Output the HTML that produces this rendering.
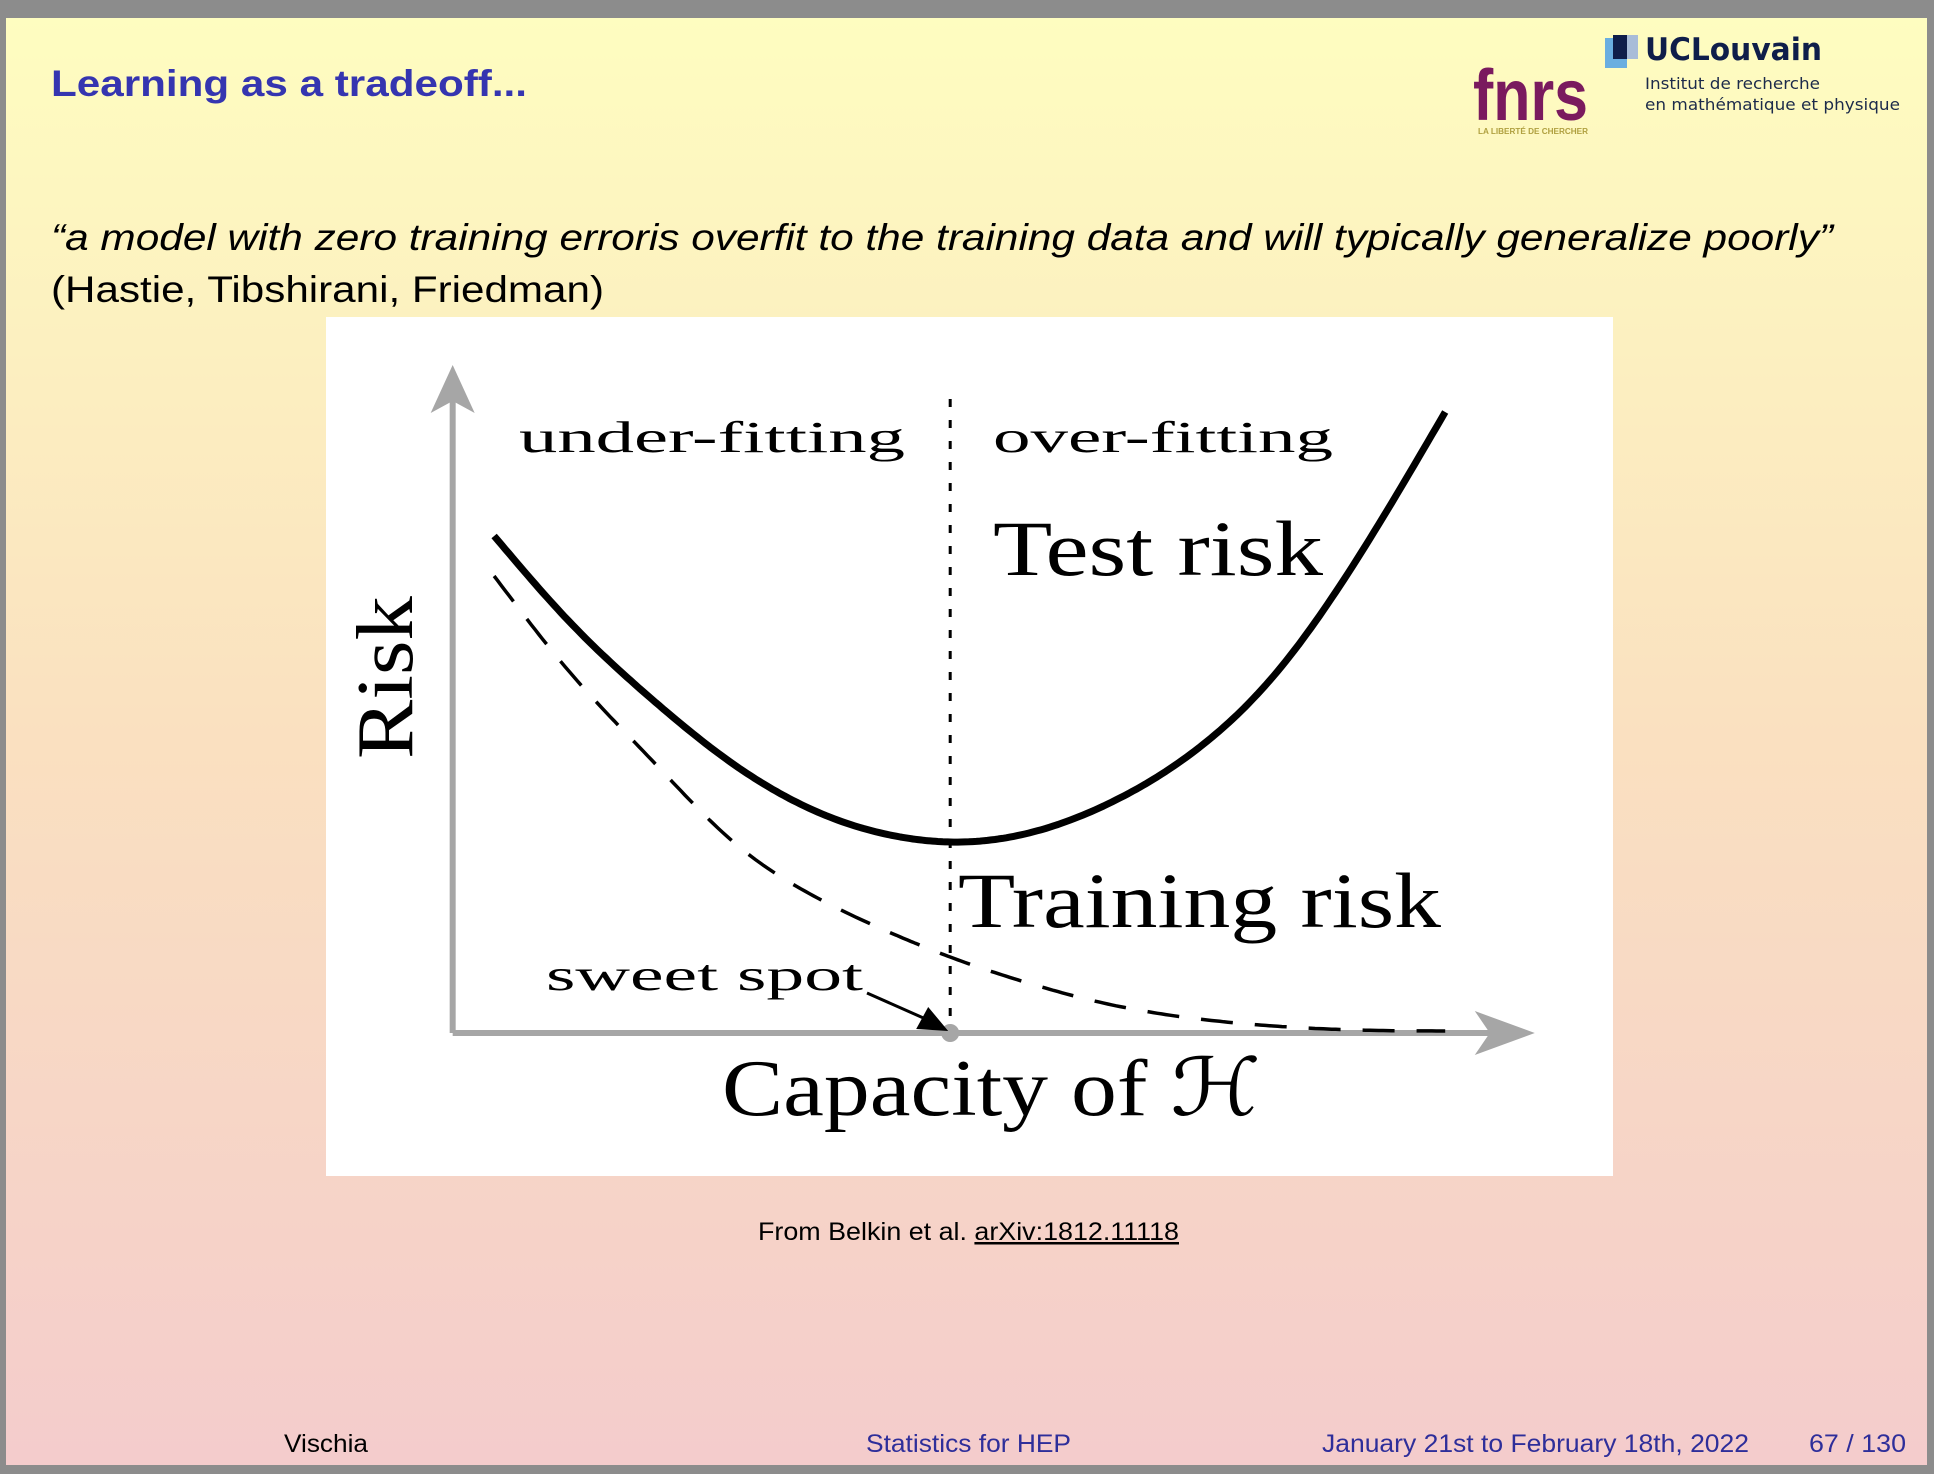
<!DOCTYPE html>
<html><head><meta charset="utf-8"><style>
html,body{margin:0;padding:0;background:#8c8c8c;}
svg{display:block}
</style></head><body>
<svg width="1934" height="1474" viewBox="0 0 1934 1474" xmlns="http://www.w3.org/2000/svg">
<defs>
<linearGradient id="bg" x1="0" y1="0" x2="0" y2="1">
<stop offset="0" stop-color="#fefdc0"/>
<stop offset="0.5" stop-color="#fae0c0"/>
<stop offset="1" stop-color="#f4cccc"/>
</linearGradient>
</defs>
<rect x="0" y="0" width="1934" height="1474" fill="#8c8c8c"/>
<rect x="6" y="18" width="1921" height="1447" fill="url(#bg)"/>

<text x="51" y="96" font-family="Liberation Sans, sans-serif" font-weight="bold" font-size="37" fill="#3535b0" textLength="476" lengthAdjust="spacingAndGlyphs">Learning as a tradeoff...</text>

<g>
<text x="1473" y="120" font-family="Liberation Sans, sans-serif" font-weight="bold" font-size="72" fill="#7a1a5e" textLength="115" lengthAdjust="spacingAndGlyphs">fnrs</text>
<text x="1478" y="134" font-family="Liberation Sans, sans-serif" font-weight="bold" font-size="8" fill="#b0a040" textLength="110" lengthAdjust="spacingAndGlyphs">LA LIBERTÉ DE CHERCHER</text>
</g>
<g>
<rect x="1605" y="38" width="22" height="30" fill="#6aaee0"/>
<rect x="1617" y="35" width="21" height="24" fill="#a8bcd8"/>
<rect x="1613" y="35" width="14" height="24" fill="#0f1e4a"/>
<text x="1645" y="60" font-family="DejaVu Sans, sans-serif" font-weight="bold" font-size="31" fill="#0f1e4a" textLength="177" lengthAdjust="spacingAndGlyphs">UCLouvain</text>
<text x="1645" y="89" font-family="DejaVu Sans, sans-serif" font-size="16" fill="#1c2a4a" textLength="175" lengthAdjust="spacingAndGlyphs">Institut de recherche</text>
<text x="1645" y="110" font-family="DejaVu Sans, sans-serif" font-size="16" fill="#1c2a4a" textLength="255" lengthAdjust="spacingAndGlyphs">en mathématique et physique</text>
</g>

<text x="51" y="250" font-family="Liberation Sans, sans-serif" font-style="italic" font-size="37" fill="#000" textLength="1782" lengthAdjust="spacingAndGlyphs">“a model with zero training erroris overfit to the training data and will typically generalize poorly”</text>
<text x="51" y="302" font-family="Liberation Sans, sans-serif" font-size="37" fill="#000" textLength="553" lengthAdjust="spacingAndGlyphs">(Hastie, Tibshirani, Friedman)</text>

<g id="chart">
<rect x="326" y="317" width="1287" height="859" fill="#ffffff"/>
</g>

<text x="758" y="1240" font-family="Liberation Sans, sans-serif" font-size="25" fill="#000" textLength="421" lengthAdjust="spacingAndGlyphs">From Belkin et al. <tspan text-decoration="underline">arXiv:1812.11118</tspan></text>

<g font-family="Liberation Sans, sans-serif" font-size="25">
<text x="284" y="1452" fill="#000" textLength="84" lengthAdjust="spacingAndGlyphs">Vischia</text>
<text x="866" y="1452" fill="#2e2e9a" textLength="205" lengthAdjust="spacingAndGlyphs">Statistics for HEP</text>
<text x="1322" y="1452" fill="#2e2e9a" textLength="427" lengthAdjust="spacingAndGlyphs">January 21st to February 18th, 2022</text>
<text x="1809" y="1452" fill="#2e2e9a" textLength="97" lengthAdjust="spacingAndGlyphs">67 / 130</text>
</g>
</svg>
<script>
// chart data
const capacity = [2.1, 3, 4, 5, 6, 7, 7.6, 8.5, 9.5, 10.5, 11.5, 12.5, 13.57];
const testRisk = [4.97, 4.12, 3.34, 2.68, 2.21, 1.96, 1.91, 1.99, 2.29, 2.79, 3.57, 4.73, 6.21];
const trainingRisk = [4.57, 3.62, 2.73, 1.90, 1.35, 0.96, 0.76, 0.51, 0.29, 0.15, 0.07, 0.03, 0.02];
const sweetSpot = [7.6];

const NS = 'http://www.w3.org/2000/svg';
const chart = document.getElementById('chart');
function xScale(c){ return 320 + c * 82.92; }
function yScale(r){ return 1033 - r * 100; }
function mk(tag, attrs){
  const e = document.createElementNS(NS, tag);
  for (const k in attrs) e.setAttribute(k, attrs[k]);
  chart.appendChild(e);
  return e;
}
// natural cubic spline through data points, sampled densely
function splinePath(xs, ys){
  const n = xs.length;
  const h = [], a = [], l = [1], mu = [0], z = [0], c = new Array(n).fill(0), b = [], d = [];
  for (let i=0;i<n-1;i++) h.push(xs[i+1]-xs[i]);
  for (let i=1;i<n-1;i++) a[i] = 3/h[i]*(ys[i+1]-ys[i]) - 3/h[i-1]*(ys[i]-ys[i-1]);
  for (let i=1;i<n-1;i++){
    l[i] = 2*(xs[i+1]-xs[i-1]) - h[i-1]*mu[i-1];
    mu[i] = h[i]/l[i];
    z[i] = (a[i]-h[i-1]*z[i-1])/l[i];
  }
  z[n-1] = 0;
  for (let j=n-2;j>=0;j--){
    c[j] = (j>0 ? z[j] : 0) - mu[j]*c[j+1];
    b[j] = (ys[j+1]-ys[j])/h[j] - h[j]*(c[j+1]+2*c[j])/3;
    d[j] = (c[j+1]-c[j])/(3*h[j]);
  }
  let dstr = '';
  for (let j=0;j<n-1;j++){
    const steps = 20;
    for (let s=(j===0?0:1); s<=steps; s++){
      const t = h[j]*s/steps;
      const y = ys[j] + b[j]*t + c[j]*t*t + d[j]*t*t*t;
      dstr += (dstr ? ' L' : 'M') + xScale(xs[j]+t).toFixed(1) + ',' + yScale(y).toFixed(1);
    }
  }
  return dstr;
}
const gray = '#a6a6a6';
const x0 = xScale(1.6), y0 = yScale(0);
const ya = mk('line', {x1:x0, y1:y0, x2:x0, y2:yScale(6.5), stroke:gray, 'stroke-width':6});


const yah = mk('path', {d:'M'+x0+','+yScale(6.68)+' L'+(x0-22)+','+yScale(6.2)+' L'+x0+','+yScale(6.32)+' L'+(x0+22)+','+yScale(6.2)+' Z', fill:gray});


const xa = mk('line', {x1:x0, y1:y0, x2:xScale(14.2), y2:y0, stroke:gray, 'stroke-width':6});


const xt = xScale(14.65);
const xah = mk('path', {d:'M'+xt+','+y0+' L'+(xt-60)+','+(y0-22)+' L'+(xt-45)+','+y0+' L'+(xt-60)+','+(y0+22)+' Z', fill:gray});


const sx = xScale(sweetSpot[0]);
const dv = mk('line', {x1:sx, y1:399, x2:sx, y2:y0, stroke:'#000', 'stroke-width':3, 'stroke-dasharray':'8 13'});


const tr = mk('path', {d:splinePath(capacity, trainingRisk), fill:'none', stroke:'#000', 'stroke-width':3.5, 'stroke-dasharray':'32 22'});


const te = mk('path', {d:splinePath(capacity, testRisk), fill:'none', stroke:'#000', 'stroke-width':7, 'stroke-linejoin':'round'});


const dot = mk('circle', {cx:sx, cy:y0, r:9, fill:gray});


const ar = mk('line', {x1:867, y1:993, x2:sx-20, y2:y0-12, stroke:'#000', 'stroke-width':3});


const arh = mk('path', {d:'M'+(sx-2)+','+(y0-2)+' L'+(sx-34)+','+(y0-4)+' L'+(sx-22)+','+(y0-26)+' Z', fill:'#000'});


function label(txt, x, y, size, len, rot){
  const t = mk('text', {x:x, y:y, 'font-family':'Liberation Serif, serif', 'font-size':size, fill:'#000', textLength:len, lengthAdjust:'spacingAndGlyphs'});
  if (rot) t.setAttribute('transform', rot);
  t.textContent = txt;
  return t;
}
let l;
l = label('under-fitting', 519, 452, 44, 386);


l = label('over-fitting', 993, 452, 44, 340);


l = label('Test risk', 993, 575, 78, 330);


l = label('Training risk', 958, 927, 78, 483);


l = label('sweet spot', 546, 990, 44, 317);


l = label('Capacity of \u210B', 722, 1115, 80, 539);


l = label('Risk', 0, 0, 80, 163, 'translate(412,759) rotate(-90)');


</script>
</body></html>
